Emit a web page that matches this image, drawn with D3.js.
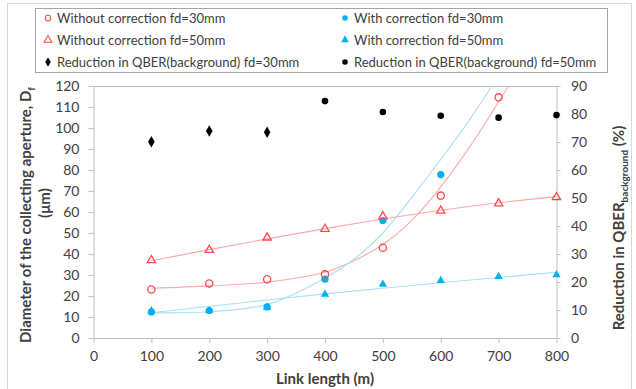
<!DOCTYPE html>
<html><head><meta charset="utf-8">
<script src="https://cdn.jsdelivr.net/npm/d3@7"></script>
<style>
html,body{margin:0;padding:0;background:#fff;}
svg{display:block;font-family:Lato,"Open Sans",sans-serif;}
</style></head>
<body><svg id="c" width="636" height="389"></svg>
<script>
// ---- data ----
const linkLength = [100, 200, 300, 400, 500, 600, 700, 800];
const withoutCorr30 = [23.1, 26.0, 28.0, 30.3, 43.0, 67.8, 114.6];        // 100..700, left axis
const withCorr30    = [12.4, 13.1, 14.8, 28.0, 55.9, 77.8];               // 100..600, left axis
const withoutCorr50 = [37.0, 41.9, 47.8, 51.9, 57.9, 60.6, 64.1, 67.0];   // 100..800, left axis
const withCorr50    = [12.9, 13.0, 14.6, 20.8, 25.6, 27.3, 29.2, 30.1];   // 100..800, left axis
const reduction30   = [70.1, 73.9, 73.5];                                 // 100..300, right axis
const reduction50   = [84.6, 80.7, 79.4, 78.7, 79.6];                     // 400..800, right axis
// trend lines as drawn in the picture
const trendX        = [100, 200, 300, 400, 450, 500, 550, 600, 650, 700, 750, 800];
const trendWithout30= [23.7, 24.8, 26.6, 31.3, 36.8, 44.5, 56, 72, 91, 112.5, 135, 160];
const trendWith30   = [12.0, 12.5, 16.0, 28.5, 37.5, 50, 67, 85, 104, 125, 147, 170];
const trendWithout50= [36.8, 42.1, 47.2, 52.1, 56.7, 60.8, 64.4, 67.3];   // at linkLength
const trendWith50   = [12.0, 15.1, 18.1, 21.0, 23.7, 26.3, 28.8, 31.3];   // at linkLength
const xTicks = [0, 100, 200, 300, 400, 500, 600, 700, 800];
const yLeftTicks = d3.range(0, 121, 10);
const yRightTicks = d3.range(0, 91, 10);
const legendLabels = [
  "Without correction fd=30mm", "With correction fd=30mm",
  "Without correction fd=50mm", "With correction fd=50mm",
  "Reduction in QBER(background) fd=30mm", "Reduction in QBER(background) fd=50mm"];

// ---- drawing ----
const RED = "#ff4b4b", BLUE = "#00b0f0", RED_T = "#ffa8a8", BLUE_T = "#aadef5", AX = "#bfbfbf";
const svg = d3.select("#c");
const x = d3.scaleLinear().domain([0, 800]).range([93.5, 556.5]);
const yL = d3.scaleLinear().domain([0, 120]).range([338, 86]);
const yR = d3.scaleLinear().domain([0, 90]).range([338, 86]);

svg.append("rect").attr("x", 7.5).attr("y", 3.5).attr("width", 624).attr("height", 400)
  .attr("fill", "none").attr("stroke", "#d9d9d9");

svg.append("defs").append("clipPath").attr("id", "clip")
  .append("rect").attr("x", 93.5).attr("y", 86).attr("width", 463).attr("height", 252);

// plot frame top
svg.append("line").attr("x1", 93.5).attr("x2", 556.5).attr("y1", 86.5).attr("y2", 86.5).attr("stroke", AX);

function styleAxis(g) {
  g.selectAll(".domain").attr("stroke", AX);
  g.selectAll(".tick line").attr("stroke", AX);
  g.selectAll("text").attr("fill", "#404040").style("font-size", "14px").style("font-family", "Lato");
}
svg.append("g").attr("transform", "translate(0,338)")
  .call(d3.axisBottom(x).tickValues(xTicks).tickSize(5).tickPadding(8.5).tickSizeOuter(0))
  .call(styleAxis);
svg.append("g").attr("transform", "translate(93.5,0)")
  .call(d3.axisLeft(yL).tickValues(yLeftTicks).tickSize(5).tickPadding(9).tickSizeOuter(0))
  .call(styleAxis);
svg.append("g").attr("transform", "translate(556.5,0)")
  .call(d3.axisRight(yR).tickValues(yRightTicks).tickSize(4).tickPadding(10.5).tickSizeOuter(0))
  .call(styleAxis);

// trend lines
const plot = svg.append("g").attr("clip-path", "url(#clip)");
const lineL = (xs) => d3.line().x((d, i) => x(xs[i])).y(d => yL(d)).curve(d3.curveCatmullRom.alpha(0.5));
plot.append("path").attr("d", lineL(trendX)(trendWithout30)).attr("fill", "none").attr("stroke", RED_T).attr("stroke-width", 1.1);
plot.append("path").attr("d", lineL(trendX)(trendWith30)).attr("fill", "none").attr("stroke", BLUE_T).attr("stroke-width", 1.1);
plot.append("path").attr("d", lineL(linkLength)(trendWithout50)).attr("fill", "none").attr("stroke", RED_T).attr("stroke-width", 1.1);
plot.append("path").attr("d", lineL(linkLength)(trendWith50)).attr("fill", "none").attr("stroke", BLUE_T).attr("stroke-width", 1.1);

const tri = d3.symbol().type(d3.symbolTriangle).size(30)();
const triL = d3.symbol().type(d3.symbolTriangle).size(26)();
const dia = d3.symbol().type(d3.symbolDiamond).size(38)();

// markers
svg.append("g").selectAll("path").data(withCorr50).join("path")
  .attr("d", tri).attr("transform", (d, i) => `translate(${x(linkLength[i])},${yL(d)})`).attr("fill", BLUE);
svg.append("g").selectAll("circle").data(withCorr30).join("circle")
  .attr("cx", (d, i) => x(linkLength[i])).attr("cy", d => yL(d)).attr("r", 3.6).attr("fill", BLUE);
svg.append("g").selectAll("circle").data(withoutCorr30).join("circle")
  .attr("cx", (d, i) => x(linkLength[i])).attr("cy", d => yL(d)).attr("r", 3.6)
  .attr("fill", "none").attr("stroke", RED).attr("stroke-width", 1.3);
svg.append("g").selectAll("path").data(withoutCorr50).join("path")
  .attr("d", tri).attr("transform", (d, i) => `translate(${x(linkLength[i])},${yL(d)})`)
  .attr("fill", "none").attr("stroke", RED).attr("stroke-width", 1.3);
svg.append("g").selectAll("path").data(reduction30).join("path")
  .attr("d", dia).attr("transform", (d, i) => `translate(${x(linkLength[i])},${yR(d)})`).attr("fill", "#000");
svg.append("g").selectAll("circle").data(reduction50).join("circle")
  .attr("cx", (d, i) => x(linkLength[i + 3])).attr("cy", d => yR(d)).attr("r", 3.3).attr("fill", "#000");

// axis titles
svg.append("text").attr("x", 325).attr("y", 384).attr("text-anchor", "middle")
  .style("font-size", "15px").style("font-weight", "bold").attr("fill", "#404040").text("Link length (m)");

const lt = svg.append("g").attr("transform", "translate(31,215) rotate(-90)");
const l1 = lt.append("text").attr("text-anchor", "middle").style("font-size", "15px").style("font-weight", "bold").attr("fill", "#404040");
l1.append("tspan").text("Diameter of the collecting aperture, D");
l1.append("tspan").attr("dy", 4).style("font-size", "10px").text("f");
svg.append("g").attr("transform", "translate(50,203) rotate(-90)")
  .append("text").attr("text-anchor", "middle").style("font-size", "15px").style("font-weight", "bold").attr("fill", "#404040").text("(μm)");

const rt = svg.append("g").attr("transform", "translate(624,228) rotate(-90)")
  .append("text").attr("text-anchor", "middle").style("font-size", "15px").style("font-weight", "bold").attr("fill", "#404040");
rt.append("tspan").text("Reduction in QBER");
rt.append("tspan").attr("dy", 4).style("font-size", "10px").text("background");
rt.append("tspan").attr("dy", -4).text(" (%)");

// legend
svg.append("rect").attr("x", 35.5).attr("y", 8.5).attr("width", 572).attr("height", 64)
  .attr("fill", "#fff").attr("stroke", "#a6a6a6");
const lg = svg.append("g");
const rowY = [18, 40, 62], colX = [48, 345];
legendLabels.forEach((lab, i) => {
  const cx = colX[i % 2], cy = rowY[Math.floor(i / 2)];
  lg.append("text").attr("x", cx + 9).attr("y", cy).attr("dy", "0.35em")
    .style("font-size", "13px").attr("fill", "#404040").text(lab);
  if (i === 0) lg.append("circle").attr("cx", cx).attr("cy", cy).attr("r", 2.8).attr("fill", "none").attr("stroke", RED).attr("stroke-width", 1.1);
  if (i === 1) lg.append("circle").attr("cx", cx).attr("cy", cy).attr("r", 2.8).attr("fill", BLUE);
  if (i === 2) lg.append("path").attr("d", triL).attr("transform", `translate(${cx},${cy})`).attr("fill", "none").attr("stroke", RED).attr("stroke-width", 1.1);
  if (i === 3) lg.append("path").attr("d", triL).attr("transform", `translate(${cx},${cy})`).attr("fill", BLUE);
  if (i === 4) lg.append("path").attr("d", d3.symbol().type(d3.symbolDiamond).size(26)()).attr("transform", `translate(${cx},${cy})`).attr("fill", "#000");
  if (i === 5) lg.append("circle").attr("cx", cx).attr("cy", cy).attr("r", 2.8).attr("fill", "#000");
});
</script></body></html>
